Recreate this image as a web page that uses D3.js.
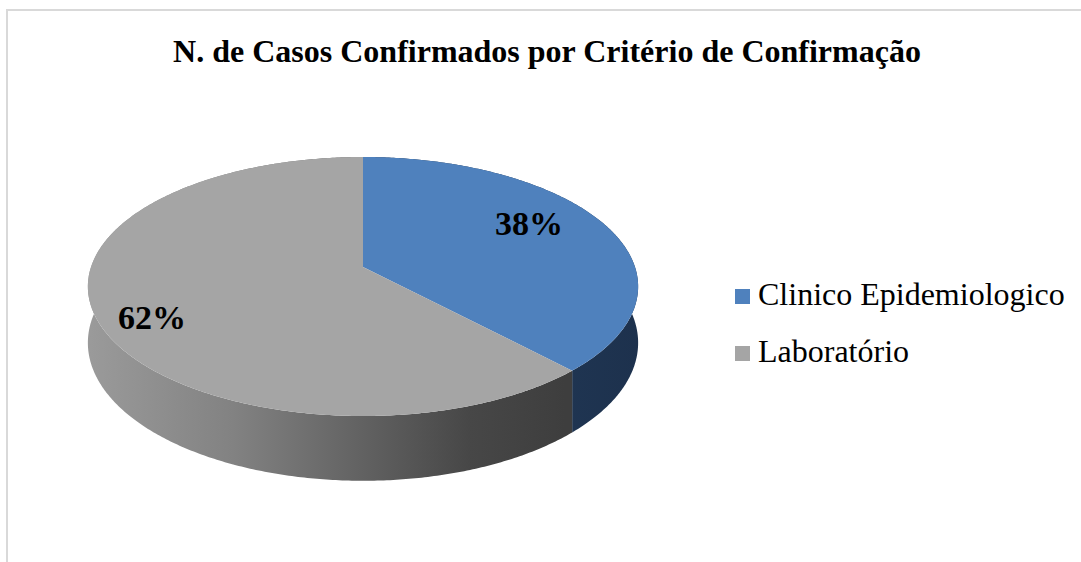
<!DOCTYPE html>
<html>
<head>
<meta charset="utf-8">
<style>
    body { margin: 0; background: #fff; }
    svg { display: block; }
    text { font-family: "Liberation Serif", "Times New Roman", serif; }
</style>
</head>
<body>
<script src="https://cdn.jsdelivr.net/npm/d3@7"></script>
<script>
    const W = 1081, H = 562;

    // data
    const categories = ["Clinico Epidemiologico", "Laboratório"];
    const values = [38, 62];
    const topColors = ["#4f81bd", "#a5a5a5"];
    const title = "N. de Casos Confirmados por Critério de Confirmação";

    // pie geometry (perspective-ish projection of a flat disc)
    const cx = 363, cy = 267;
    const A = 272, B = 126.6, k = 0.1506, depth = 55;

    // angle measured clockwise from 12 o'clock
    function proj(a, r, drop) {
        const x = r * Math.sin(a), z = r * Math.cos(a);
        const s = 1 / (1 + k * z);
        return [cx + A * x * s, cy - B * z * s + (drop ? depth * s : 0)];
    }

    function arcPts(a0, a1, drop) {
        const n = Math.max(8, Math.ceil(Math.abs(a1 - a0) / 0.01));
        return d3.range(n + 1).map(i => proj(a0 + (a1 - a0) * i / n, 1, drop));
    }

    const svg = d3.select("body").append("svg").attr("width", W).attr("height", H);

    // outer frame (only left + top edges visible)
    svg.append("path")
        .attr("d", `M7,${H} L7,10 L${W},10`)
        .attr("fill", "none").attr("stroke", "#d9d9d9").attr("stroke-width", 2);

    svg.append("text")
        .attr("x", 547).attr("y", 62)
        .attr("text-anchor", "middle")
        .attr("font-weight", "bold").attr("font-size", 32)
        .text(title);

    const defs = svg.append("defs");
    const gGray = defs.append("linearGradient").attr("id", "sideGray")
        .attr("gradientUnits", "userSpaceOnUse")
        .attr("x1", 90).attr("y1", 0).attr("x2", 565).attr("y2", 0);
    gGray.append("stop").attr("offset", 0).attr("stop-color", "#9a9a9a");
    gGray.append("stop").attr("offset", 0.3).attr("stop-color", "#828282");
    gGray.append("stop").attr("offset", 0.8).attr("stop-color", "#474747");
    gGray.append("stop").attr("offset", 1).attr("stop-color", "#3e3e3e");
    const gBlue = defs.append("linearGradient").attr("id", "sideBlue")
        .attr("gradientUnits", "userSpaceOnUse")
        .attr("x1", 560).attr("y1", 0).attr("x2", 640).attr("y2", 0);
    gBlue.append("stop").attr("offset", 0).attr("stop-color", "#1f3552");
    gBlue.append("stop").attr("offset", 1).attr("stop-color", "#1d314d");
    const sideFills = ["url(#sideBlue)", "url(#sideGray)"];

    const pie = d3.pie().sort(null).value(d => d)(values);
    const total = d3.sum(values);
    const line = d3.line();

    // outer walls first
    svg.append("g").selectAll("path").data(pie).join("path")
        .attr("d", d => {
            const top = arcPts(d.startAngle, d.endAngle, false);
            const bot = arcPts(d.endAngle, d.startAngle, true);
            return line(top.concat(bot)) + "Z";
        })
        .attr("fill", (d, i) => sideFills[i]);

    // top faces
    svg.append("g").selectAll("path").data(pie).join("path")
        .attr("d", d => {
            const pts = [[cx, cy]].concat(arcPts(d.startAngle, d.endAngle, false));
            return line(pts) + "Z";
        })
        .attr("fill", (d, i) => topColors[i]);

    // percentage labels
    const labelPos = [[529, 235], [152, 329]];
    svg.append("g").selectAll("text").data(pie).join("text")
        .attr("x", (d, i) => labelPos[i][0])
        .attr("y", (d, i) => labelPos[i][1])
        .attr("text-anchor", "middle")
        .attr("font-weight", "bold").attr("font-size", 34)
        .text(d => Math.round(d.value / total * 100) + "%");

    // legend
    const legend = svg.append("g").attr("transform", "translate(735,289)");
    const item = legend.selectAll("g").data(categories).join("g")
        .attr("transform", (d, i) => `translate(0,${i * 57})`);
    item.append("rect").attr("width", 15).attr("height", 15)
        .attr("fill", (d, i) => topColors[i]);
    item.append("text").attr("x", 23).attr("y", 16)
        .attr("font-size", 32)
        .text(d => d);
</script>
</body>
</html>
